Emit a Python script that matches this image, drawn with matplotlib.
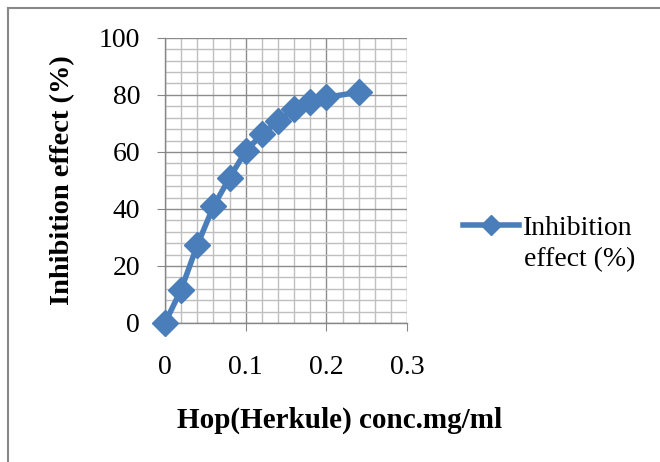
import matplotlib
matplotlib.use("Agg")
import matplotlib.pyplot as plt
from matplotlib.lines import Line2D
from matplotlib.ticker import MultipleLocator

conc = [0, 0.02, 0.04, 0.06, 0.08, 0.10, 0.12, 0.14, 0.16, 0.18, 0.20, 0.24]
inhibition = [0, 11.7, 27.3, 40.9, 50.9, 60.3, 66.2, 70.9, 75.0, 77.6, 79.2, 80.9]
x_ticks = [0, 0.1, 0.2, 0.3]
x_labels = ['0', '0.1', '0.2', '0.3']
y_ticks = [0, 20, 40, 60, 80, 100]

plt.rcParams['font.family'] = ['Liberation Serif', 'DejaVu Serif']

fig = plt.figure(figsize=(6.6, 4.62), dpi=100)
ax = fig.add_axes([0.25, 0.301, 0.367, 0.617])

blue = '#4a7ebb'
axis_c = '#868686'

ax.plot(conc, inhibition, color=blue, lw=4, marker='D', ms=13,
        mec=blue, mfc=blue, label='Inhibition', zorder=5, clip_on=False)

ax.set_xlim(0, 0.3)
ax.set_ylim(0, 100)
ax.set_xticks(x_ticks)
ax.set_xticklabels(x_labels)
ax.set_yticks(y_ticks)
ax.xaxis.set_minor_locator(MultipleLocator(0.02))
ax.yaxis.set_minor_locator(MultipleLocator(4))
ax.grid(which='major', color='#8c8c8c', lw=1.0)
ax.grid(which='minor', color='#bfbfbf', lw=1.0)
ax.set_axisbelow(True)

for s in ['top', 'right']:
    ax.spines[s].set_visible(False)
for s in ['left', 'bottom']:
    ax.spines[s].set_color(axis_c)
    ax.spines[s].set_linewidth(1.0)

ax.tick_params(which='major', direction='out', length=6, color=axis_c,
               labelsize=20, pad=12)
ax.tick_params(axis='x', pad=17)
ax.tick_params(which='minor', length=0)

ax.set_xlabel('Hop(Herkule) conc.mg/ml', fontsize=21, fontweight='bold', va='center')
ax.xaxis.set_label_coords(0.719, -0.34)
ax.set_ylabel('Inhibition effect (%)', fontsize=20.5, fontweight='bold', va='center')
ax.yaxis.set_label_coords(-0.421, 0.502)

# legend: handle sits beside the first line of the two-line label
fig.legend(loc='center left', bbox_to_anchor=(463 / 660, 1 - 228 / 462), frameon=False,
           fontsize=20, handlelength=2.0, handletextpad=0.15, borderpad=0,
           borderaxespad=0, markerscale=0.8)
fig.text(524 / 660, 1 - 260 / 462, 'effect (%)', fontsize=20, va='center', ha='left')

# outer chart border (top and left visible)
fig.add_artist(Line2D([8 / 660, 1.0], [1 - 8 / 462, 1 - 8 / 462], color='#888888', lw=1.5))
fig.add_artist(Line2D([8 / 660, 8 / 660], [0, 1 - 8 / 462], color='#888888', lw=1.5))

fig.savefig('out.png', dpi=100)
